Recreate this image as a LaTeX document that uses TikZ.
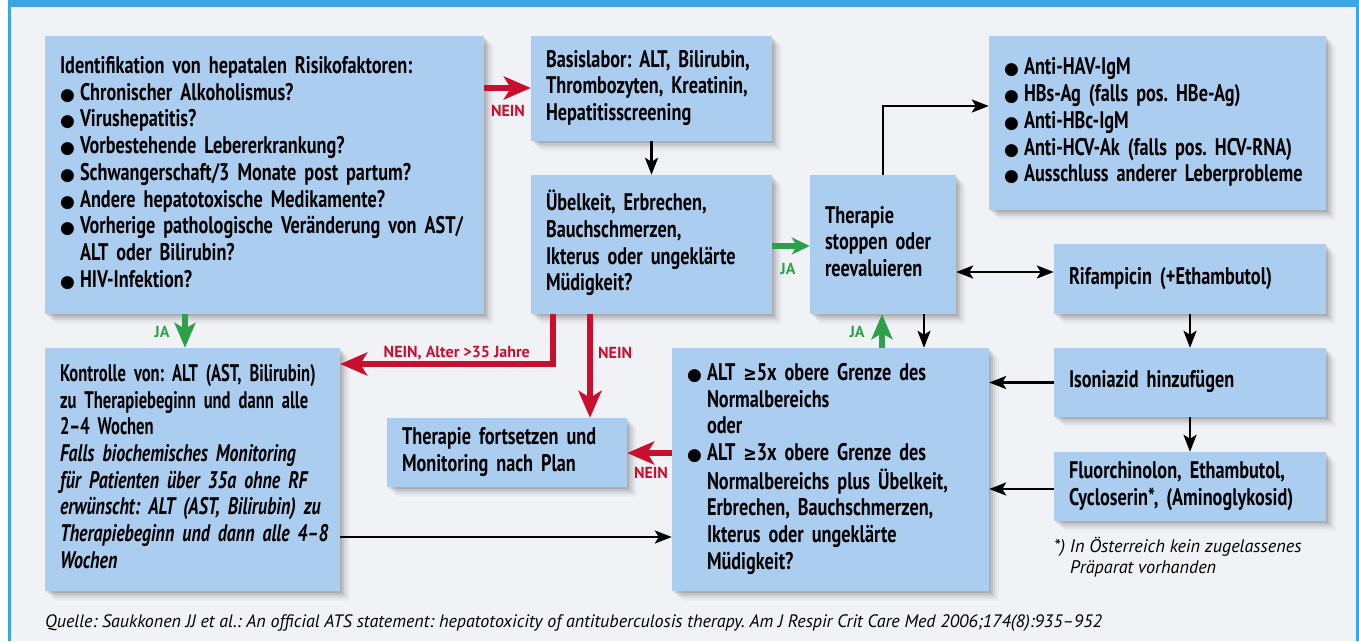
\documentclass[tikz,border=0pt]{standalone}
\usepackage{fontspec}
\setmainfont{PT Sans}[FakeStretch=0.76, WordSpace=0.75]
\newfontfamily\eupfont{PT Sans}[FakeStretch=0.69, WordSpace=0.75]
\newfontfamily\eitfont{PT Sans}[FakeStretch=0.745, WordSpace=0.75]
\newfontfamily\lblfont{PT Sans}
\newfontfamily\notefont{PT Sans}
\newfontfamily\dejavu{DejaVu Sans}
\newfontfamily\dejavun{DejaVu Sans}[FakeStretch=0.8]
\usetikzlibrary{arrows.meta,calc}
\definecolor{boxblue}{RGB}{171,205,239}
\definecolor{panel}{RGB}{240,242,246}
\definecolor{frameblue}{RGB}{59,166,230}
\definecolor{nred}{RGB}{200,16,46}
\definecolor{ngreen}{RGB}{46,160,74}
\newcommand{\bul}{\makebox[20pt][l]{\dejavu\fontsize{17}{17}\selectfont ●}}
\newcommand{\ind}{\hspace*{20pt}}
\newcommand{\mygeq}{{\dejavun\bfseries\fontsize{20}{20}\selectfont ≥}}
\newcommand{\lns}[1]{\begin{tabular}{@{}l@{}}#1\end{tabular}}
\newcommand{\eu}{\eupfont\bfseries}
\newcommand{\ei}{\eitfont\bfseries\itshape}
\newcommand{\shad}[1]{%
  \foreach \s/\o in {2/0.10,4/0.08,6/0.06,8/0.04,10/0.025}
    \fill[black,opacity=\o] ([shift={(\s pt,-\s pt)}]#1.south west) rectangle ([shift={(\s pt,-\s pt)}]#1.north east);}
\pgfdeclarelayer{bg}
\pgfdeclarelayer{shadow}
\pgfdeclarelayer{conn}
\pgfsetlayers{bg,shadow,conn,main}
\begin{document}
\begin{tikzpicture}[x=1pt,y=-1pt,
  box/.style={fill=boxblue, inner xsep=15pt, inner ysep=0pt, align=left,
    font=\frenchspacing\bfseries\fontsize{24}{26.7}\selectfont},
  redarr/.style={draw=nred, line width=5.5pt, -{Stealth[length=27pt,width=23pt,inset=7pt]}},
  greenarr/.style={draw=ngreen, line width=5.5pt, -{Stealth[length=25pt,width=21pt,inset=6pt]}},
  greensmall/.style={draw=ngreen, line width=5.5pt, -{Stealth[length=18pt,width=17pt,inset=5pt]}},
  blackarr/.style={draw=black, line width=2.7pt, -{Stealth[length=17pt,width=13pt,inset=4pt]}},
  redlbl/.style={text=nred, inner sep=0pt, font=\lblfont\bfseries\fontsize{16}{18}\selectfont},
  greenlbl/.style={text=ngreen, inner sep=0pt, font=\lblfont\bfseries\fontsize{16}{18}\selectfont}]
\useasboundingbox (0,0) rectangle (1359,641);
\begin{pgfonlayer}{bg}
  \fill[white] (0,0) rectangle (1359,641);
  \fill[panel] (11,7) rectangle (1355.5,641);
  \fill[frameblue] (8,0) rectangle (1359,7);
  \fill[frameblue] (8,0) rectangle (11,641);
  \fill[frameblue] (1355.5,0) rectangle (1359,641);
\end{pgfonlayer}

% boxes
\node[box, minimum width=439pt, minimum height=278pt, text width=409pt] (A) at (264.5,175)
 {\lns{Identifikation von hepatalen Risikofaktoren:\\
  \bul Chronischer Alkoholismus?\\
  \bul Virushepatitis?\\
  \bul Vorbestehende Lebererkrankung?\\
  \bul Schwangerschaft/3 Monate post partum?\\
  \bul Andere hepatotoxische Medikamente?\\
  \bul Vorherige pathologische Veränderung von AST/\\
  \ind ALT oder Bilirubin?\\
  \bul HIV-Infektion?}};
\node[box, minimum width=241pt, minimum height=105pt, text width=211pt] (B) at (651.5,88.5)
 {\lns{Basislabor: ALT, Bilirubin,\\ Thrombozyten, Kreatinin,\\ Hepatitisscreening}};
\node[box, minimum width=241pt, minimum height=139pt, text width=211pt] (C) at (651.5,244.5)
 {\lns{Übelkeit, Erbrechen,\\ Bauchschmerzen,\\ Ikterus oder ungeklärte\\ Müdigkeit?}};
\node[box, minimum width=146pt, minimum height=139pt, text width=116pt] (D) at (883,244.5)
 {\lns{Therapie\\ stoppen oder\\ reevaluieren}};
\node[box, minimum width=337pt, minimum height=174pt, text width=307pt] (J) at (1157.5,123)
 {\lns{\bul Anti-HAV-IgM\\
  \bul HBs-Ag (falls pos. HBe-Ag)\\
  \bul Anti-HBc-IgM\\
  \bul Anti-HCV-Ak (falls pos. HCV-RNA)\\
  \bul Ausschluss anderer Leberprobleme}};
\node[box, minimum width=272pt, minimum height=70pt, text width=242pt] (K) at (1190,279)
 {\lns{Rifampicin (+Ethambutol)}};
\node[box, minimum width=295pt, minimum height=243pt, text width=265pt] (E) at (192.5,469.5)
 {\lns{\eu Kontrolle von: ALT (AST, Bilirubin)\\
  \eu zu Therapiebeginn und dann alle\\
  \eu 2–4 Wochen\\
  \ei Falls biochemisches Monitoring\\
  \ei für Patienten über 35a ohne RF\\
  \ei erwünscht: ALT (AST, Bilirubin) zu\\
  \ei Therapiebeginn und dann alle 4–8\\
  \ei Wochen}};
\node[box, minimum width=240pt, minimum height=69pt, text width=210pt] (F) at (507,452.5)
 {\lns{Therapie fortsetzen und\\ Monitoring nach Plan}};
\node[box, minimum width=317pt, minimum height=243pt, text width=287pt] (G) at (830.5,469.5)
 {\lns{\bul ALT \mygeq5x obere Grenze des\\
  \ind Normalbereichs\\
  \ind oder\\
  \bul ALT \mygeq3x obere Grenze des\\
  \ind Normalbereichs plus Übelkeit,\\
  \ind Erbrechen, Bauchschmerzen,\\
  \ind Ikterus oder ungeklärte\\
  \ind Müdigkeit?}};
\node[box, minimum width=272pt, minimum height=69pt, text width=242pt] (H) at (1190,382.5)
 {\lns{Isoniazid hinzufügen}};
\node[box, minimum width=272pt, minimum height=69pt, text width=242pt] (I) at (1190,486.5)
 {\lns{Fluorchinolon, Ethambutol,\\ Cycloserin*, (Aminoglykosid)}};

\begin{pgfonlayer}{shadow}
  \shad{A}\shad{B}\shad{C}\shad{D}\shad{J}\shad{K}\shad{E}\shad{F}\shad{G}\shad{H}\shad{I}
\end{pgfonlayer}

% helper coordinates
\coordinate (xja1) at (185,0);
\coordinate (yab) at (0,88);
\coordinate (ydj) at (0,106);
\coordinate (ydk) at (0,272);
\coordinate (xjaG) at (882,0);
\coordinate (xdg) at (924,0);
\coordinate (xce) at (553,0);
\coordinate (yce) at (0,364);
\coordinate (xcf) at (590,0);
\coordinate (yeg) at (0,537);
\coordinate (yig) at (0,489);
\coordinate (ygf) at (0,453);
\coordinate (ycd) at (0,246);

\begin{pgfonlayer}{conn}
  \draw[redarr] (A.east |- yab) -- (B.west |- yab);
  \draw[greenarr] (A.south -| xja1) -- (E.north -| xja1);
  \draw[blackarr] (B.south) -- (C.north);
  \draw[greensmall] (C.east |- ycd) -- (D.west |- ycd);
  \draw[blackarr] (D.north) |- (J.west |- ydj);
  \draw[blackarr, {Stealth[length=17pt,width=13pt,inset=4pt]}-{Stealth[length=17pt,width=13pt,inset=4pt]}] (D.east |- ydk) -- (K.west |- ydk);
  \draw[blackarr] (K.south) -- (H.north);
  \draw[blackarr] (H.south) -- (I.north);
  \draw[blackarr] (H.west) -- (G.east |- H.west);
  \draw[blackarr] (I.west |- yig) -- (G.east |- yig);
  \draw[greenarr] (G.north -| xjaG) -- (D.south -| xjaG);
  \draw[blackarr] (D.south -| xdg) -- (G.north -| xdg);
  \draw[redarr] (G.west |- ygf) -- (F.east |- ygf);
  \draw[redarr] (C.south -| xce) |- (E.east |- yce);
  \draw[redarr] (C.south -| xcf) -- (F.north -| xcf);
  \draw[blackarr] (E.east |- yeg) -- (G.west |- yeg);
\end{pgfonlayer}

% labels
\node[redlbl] (l1) at (508,111) {NEIN};
\node[greenlbl] (l2) at (162,332) {JA};
\node[greenlbl] (l3) at (788,269) {JA};
\node[greenlbl] (l4) at (857,332) {JA};
\node[redlbl] (l5) at (651,473) {NEIN};
\node[redlbl, anchor=east] (l6) at (530,353) {NEIN, Alter >35 Jahre};
\node[redlbl, anchor=west] (l7) at (598,353) {NEIN};

% notes
\node[anchor=north west, inner sep=0pt, align=left, font=\frenchspacing\notefont\itshape\fontsize{18.2}{21}\selectfont] (fn) at (1054,537)
 {*) In Österreich kein zugelassenes\\ \hspace*{16pt}Präparat vorhanden};
\node[anchor=west, inner sep=0pt, font=\frenchspacing\notefont\itshape\fontsize{18}{21}\selectfont] (src) at (45,623)
 {Quelle: Saukkonen JJ et al.: An official ATS statement: hepatotoxicity of antituberculosis therapy. Am J Respir Crit Care Med 2006;174(8):935–952};
\end{tikzpicture}
\end{document}
